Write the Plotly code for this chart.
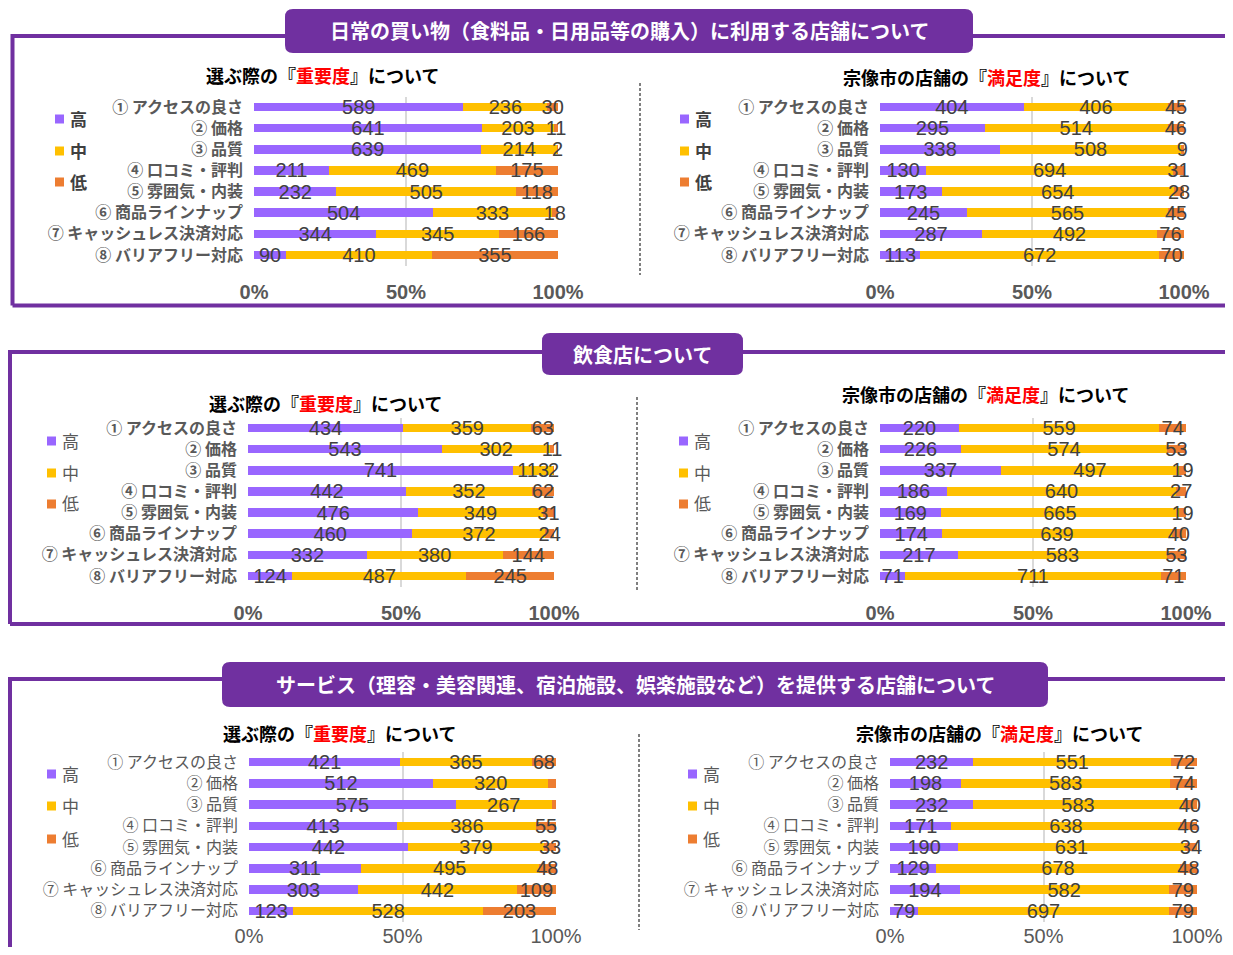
import plotly.graph_objects as go

# page body keeps an 8px margin, so the figure is drawn 16px smaller
W, H = 1217, 939
OFF = 8

categories = ["① アクセスの良さ", "② 価格", "③ 品質", "④ 口コミ・評判",
              "⑤ 雰囲気・内装", "⑥ 商品ラインナップ", "⑦ キャッシュレス決済対応", "⑧ バリアフリー対応"]
levels = ["高", "中", "低"]
level_colors = ["#9966FF", "#FFC000", "#ED7D31"]
pct_ticks = [0, 50, 100]
pct_labels = ["0%", "50%", "100%"]

panel_titles = [
    "日常の買い物（食料品・日用品等の購入）に利用する店舗について",
    "飲食店について",
    "サービス（理容・美容関連、宿泊施設、娯楽施設など）を提供する店舗について",
]
sub_imp = "選ぶ際の『<span style='color:#FF0000'>重要度</span>』について"
sub_sat = "宗像市の店舗の『<span style='color:#FF0000'>満足度</span>』について"

# 日常の買い物
daily_imp_high = [589, 641, 639, 211, 232, 504, 344, 90]
daily_imp_mid = [236, 203, 214, 469, 505, 333, 345, 410]
daily_imp_low = [30, 11, 2, 175, 118, 18, 166, 355]
daily_sat_high = [404, 295, 338, 130, 173, 245, 287, 113]
daily_sat_mid = [406, 514, 508, 694, 654, 565, 492, 672]
daily_sat_low = [45, 46, 9, 31, 28, 45, 76, 70]
# 飲食店
food_imp_high = [434, 543, 741, 442, 476, 460, 332, 124]
food_imp_mid = [359, 302, 113, 352, 349, 372, 380, 487]
food_imp_low = [63, 11, 2, 62, 31, 24, 144, 245]
food_sat_high = [220, 226, 337, 186, 169, 174, 217, 71]
food_sat_mid = [559, 574, 497, 640, 665, 639, 583, 711]
food_sat_low = [74, 53, 19, 27, 19, 40, 53, 71]
# サービス
serv_imp_high = [421, 512, 575, 413, 442, 311, 303, 123]
serv_imp_mid = [365, 320, 267, 386, 379, 495, 442, 528]
serv_imp_low = [68, 22, 12, 55, 33, 48, 109, 203]
serv_sat_high = [232, 198, 232, 171, 190, 129, 194, 79]
serv_sat_mid = [551, 583, 583, 638, 631, 678, 582, 697]
serv_sat_low = [72, 74, 40, 46, 34, 48, 79, 79]


def px(x):
    return min(max((x - OFF) / W, 0), 1)


def py(y):
    return min(max(1 - (y - OFF) / H, 0), 1)


JP = "Noto Sans CJK JP"
NUM = "Liberation Sans Narrow, Arial Narrow, sans-serif"

# chart layout in page pixels: plot area, legend, subtitle
charts = [
    dict(series=[daily_imp_high, daily_imp_mid, daily_imp_low], sub=sub_imp,
         x0=254, x1=558, y0=96.5, y1=265.5, sub_x=322, sub_y=75,
         sq_x=55, leg_y=[118, 150, 181], bold=True, standoff=12),
    dict(series=[daily_sat_high, daily_sat_mid, daily_sat_low], sub=sub_sat,
         x0=880, x1=1184, y0=96.5, y1=265.5, sub_x=986, sub_y=77,
         sq_x=680, leg_y=[118, 150, 181], bold=True, standoff=12),
    dict(series=[food_imp_high, food_imp_mid, food_imp_low], sub=sub_imp,
         x0=248, x1=554, y0=417.5, y1=586.5, sub_x=325, sub_y=403,
         sq_x=47, leg_y=[440, 472, 503], bold=False, standoff=12),
    dict(series=[food_sat_high, food_sat_mid, food_sat_low], sub=sub_sat,
         x0=880, x1=1186, y0=417.5, y1=586.5, sub_x=985, sub_y=394,
         sq_x=679, leg_y=[440, 472, 503], bold=False, standoff=12),
    dict(series=[serv_imp_high, serv_imp_mid, serv_imp_low], sub=sub_imp,
         x0=249, x1=556, y0=751.5, y1=921.5, sub_x=339, sub_y=733,
         sq_x=47, leg_y=[773, 805, 838], bold=False, standoff=0),
    dict(series=[serv_sat_high, serv_sat_mid, serv_sat_low], sub=sub_sat,
         x0=890, x1=1197, y0=751.5, y1=921.5, sub_x=999, sub_y=733,
         sq_x=688, leg_y=[773, 805, 838], bold=False, standoff=0),
]

fig = go.Figure()
layout = {}
shapes = []
annotations = []

for k, c in enumerate(charts, start=1):
    sfx = "" if k == 1 else str(k)
    for name, vals, col in zip(levels, c["series"], level_colors):
        fig.add_trace(go.Bar(
            name=name, orientation="h", x=vals, y=categories,
            xaxis="x" + sfx, yaxis="y" + sfx,
            marker=dict(color=col, line=dict(width=0)), width=0.4,
            text=vals, texttemplate="%{text}", textposition="inside",
            insidetextanchor="middle", constraintext="none", textangle=0,
            insidetextfont=dict(family=NUM, size=20, color="#404040"),
            cliponaxis=False, showlegend=False,
        ))
    weight = "bold" if k <= 4 else "normal"
    layout["xaxis" + sfx] = dict(
        domain=[px(c["x0"]), px(c["x1"])], anchor="y" + sfx, range=[0, 100],
        tickmode="array", tickvals=pct_ticks, ticktext=pct_labels,
        showgrid=True, gridcolor="#D9D9D9", automargin=False,
        gridwidth=1.5, zeroline=False, showline=False, ticks="",
        ticklabelstandoff=c["standoff"], fixedrange=True,
        tickfont=dict(family=NUM, size=20, weight=weight,
                      color="#595959"),
    )
    layout["yaxis" + sfx] = dict(
        domain=[py(c["y1"]), py(c["y0"])], anchor="x" + sfx,
        autorange="reversed", showgrid=False, zeroline=False, ticks="",
        ticklabelstandoff=10, fixedrange=True, automargin=False,
        tickfont=dict(family=JP, size=16, weight=weight, color="#595959"),
    )
    annotations.append(dict(
        xref="paper", yref="paper", x=px(c["sub_x"]), y=py(c["sub_y"]),
        text="<b>" + c["sub"] + "</b>", showarrow=False, xanchor="center",
        yanchor="middle", font=dict(family=JP, size=18, color="#000000"),
    ))
    for name, col, ly in zip(levels, level_colors, c["leg_y"]):
        shapes.append(dict(
            type="rect", xref="paper", yref="paper",
            x0=px(c["sq_x"]), x1=px(c["sq_x"] + 9),
            y0=py(ly + 5.5), y1=py(ly - 3.5),
            fillcolor=col, line=dict(width=0),
        ))
        annotations.append(dict(
            xref="paper", yref="paper", x=px(c["sq_x"] + 13), y=py(ly),
            text=name, showarrow=False, xanchor="left", yanchor="middle",
            font=dict(family=JP, size=17, color="#404040" if c["bold"] else "#595959",
                      weight="bold" if c["bold"] else "normal"),
        ))

# panel frames: left, top and bottom edges, open to the right
PURPLE = "#7030A0"
frames = [(12.5, 36, 305.5), (10, 352, 624), (10, 679, None)]
for x0, y0, y1 in frames:
    bottom = y1 if y1 is not None else 960
    segs = [(x0, y0 - 2, x0, bottom), (x0, y0, 1240, y0)]
    if y1 is not None:
        segs.append((x0, y1, 1240, y1))
    for a, b, c2, d in segs:
        shapes.append(dict(type="line", xref="paper", yref="paper",
                           x0=px(a), y0=py(b), x1=px(c2), y1=py(d),
                           line=dict(color=PURPLE, width=4), layer="below"))

# dashed dividers between left and right charts
for dx, dy0, dy1 in [(640, 83, 275), (637, 397, 592), (639, 734, 930)]:
    shapes.append(dict(type="line", xref="paper", yref="paper",
                       x0=px(dx), x1=px(dx), y0=py(dy0), y1=py(dy1),
                       line=dict(color="#000000", width=1, dash="3px,2px")))


def rounded_rect(x0, y0, x1, y1, r):
    X = lambda v: f"{px(v):.5f}"
    Y = lambda v: f"{py(v):.5f}"
    return (f"M {X(x0 + r)},{Y(y0)} L {X(x1 - r)},{Y(y0)} Q {X(x1)},{Y(y0)} {X(x1)},{Y(y0 + r)} "
            f"L {X(x1)},{Y(y1 - r)} Q {X(x1)},{Y(y1)} {X(x1 - r)},{Y(y1)} "
            f"L {X(x0 + r)},{Y(y1)} Q {X(x0)},{Y(y1)} {X(x0)},{Y(y1 - r)} "
            f"L {X(x0)},{Y(y0 + r)} Q {X(x0)},{Y(y0)} {X(x0 + r)},{Y(y0)} Z")


labels = [(285, 9, 973, 53), (542, 333, 743, 375), (222, 662, 1048, 707)]
for title, (x0, y0, x1, y1) in zip(panel_titles, labels):
    shapes.append(dict(type="path", xref="paper", yref="paper",
                       path=rounded_rect(x0, y0, x1, y1, 8),
                       fillcolor=PURPLE, line=dict(width=0)))
    annotations.append(dict(
        xref="paper", yref="paper", x=px((x0 + x1) / 2), y=py((y0 + y1) / 2),
        text="<b>" + title + "</b>", showarrow=False, xanchor="center",
        yanchor="middle", font=dict(family=JP, size=20, color="#FFFFFF"),
    ))

fig.update_layout(
    width=W, height=H, autosize=False,
    margin=dict(l=0, r=0, t=0, b=0, autoexpand=False),
    paper_bgcolor="#FFFFFF", plot_bgcolor="rgba(0,0,0,0)",
    barmode="stack", barnorm="percent",
    shapes=shapes, annotations=annotations,
    **layout,
)

fig.write_html("out.html")
